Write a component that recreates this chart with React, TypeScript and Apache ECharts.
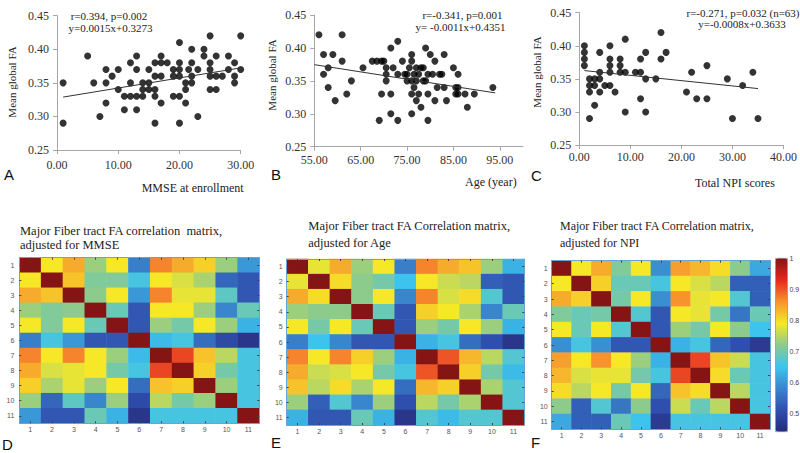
import React, { useEffect, useRef } from 'react';
import * as echarts from 'echarts';

const SERIF = '"Liberation Serif", "Times New Roman", serif';
const SANS = '"Liberation Sans", Arial, sans-serif';

// ---- scatter data (x, mean global FA) ----
const mmsePoints = [
  [1, 0.35], [1, 0.29], [5, 0.39], [6, 0.35], [7, 0.30], [8, 0.37], [8, 0.35], [8, 0.32], [9, 0.36],
  [10, 0.37], [10, 0.34], [11, 0.33], [11, 0.31], [12, 0.38], [12, 0.35], [12, 0.33], [13, 0.39],
  [13, 0.37], [13, 0.33], [13, 0.31], [14, 0.35], [14, 0.34], [14, 0.33], [15, 0.37], [15, 0.35],
  [15, 0.34], [16, 0.38], [16, 0.36], [16, 0.34], [16, 0.33], [16, 0.29], [17, 0.39], [17, 0.38],
  [17, 0.36], [17, 0.32], [18, 0.38], [19, 0.37], [19, 0.36], [19, 0.33], [20, 0.41], [20, 0.38],
  [20, 0.37], [20, 0.36], [20, 0.33], [20, 0.29], [21, 0.35], [21, 0.34], [21, 0.32], [21.5, 0.37],
  [22, 0.40], [22, 0.38], [22, 0.36], [22, 0.35], [23, 0.37], [23, 0.30], [24, 0.40], [24, 0.39],
  [25, 0.42], [25, 0.38], [25, 0.37], [25, 0.36], [25, 0.34], [26, 0.39], [26, 0.36], [26, 0.34],
  [27, 0.36], [28, 0.39], [28, 0.37], [29, 0.38], [29, 0.36], [29, 0.35], [30, 0.42], [30, 0.37],
];
const agePoints = [
  [56, 0.42], [57, 0.39], [57, 0.36], [58, 0.37], [58, 0.34], [59, 0.39], [59.5, 0.32], [61, 0.42],
  [61, 0.38], [62, 0.33], [63, 0.35], [65.5, 0.37], [67.5, 0.38], [68.5, 0.38], [69, 0.29],
  [69.5, 0.38], [69.5, 0.33], [70, 0.38], [70.5, 0.36], [70.5, 0.35], [70.5, 0.37], [71.5, 0.40],
  [71.5, 0.33], [71.5, 0.30], [72, 0.37], [73, 0.29], [73, 0.41], [73, 0.36], [74, 0.38], [74.5, 0.36],
  [75, 0.35], [75, 0.36], [75.5, 0.37], [76, 0.39], [76, 0.38], [76, 0.35], [76, 0.33], [76, 0.30],
  [76.5, 0.36], [76.5, 0.34], [77, 0.32], [77, 0.37], [77, 0.35], [77.5, 0.36], [78, 0.37],
  [77.5, 0.33], [78, 0.31], [78.5, 0.37], [78.5, 0.35], [79, 0.40], [79, 0.35], [79.5, 0.36],
  [79.5, 0.33], [79.5, 0.29], [80, 0.39], [80.5, 0.36], [81, 0.38], [81, 0.32], [81.5, 0.34],
  [82, 0.36], [82.5, 0.36], [83, 0.39], [83, 0.34], [83.5, 0.32], [85, 0.37], [85.5, 0.34],
  [85.5, 0.33], [86, 0.36], [86, 0.34], [86, 0.33], [87.5, 0.33], [88, 0.31], [89.5, 0.33],
  [93.5, 0.34],
];
const npiPoints = [
  [1, 0.40], [1, 0.39], [1, 0.38], [1, 0.37], [2, 0.35], [2, 0.34], [2, 0.33], [2, 0.29],
  [3, 0.35], [3, 0.34], [3, 0.31], [4, 0.39], [4, 0.36], [4, 0.35], [4, 0.33], [5, 0.34],
  [6, 0.40], [6, 0.38], [6, 0.37], [6, 0.36], [6, 0.34], [7, 0.33], [8, 0.38], [8, 0.37], [8, 0.36],
  [9, 0.41], [9, 0.36], [9, 0.30], [11, 0.36], [12, 0.38], [12, 0.36], [12, 0.32], [13, 0.39],
  [13, 0.35], [13, 0.30], [15, 0.35], [16, 0.42], [16, 0.38], [17, 0.39], [21, 0.33], [22, 0.36],
  [23, 0.32], [25, 0.37], [25, 0.32], [29, 0.35], [30, 0.29], [32, 0.34], [34, 0.36], [35, 0.29],
];
const mmseFit = [[1, 0.3288], [30, 0.3723]];
const ageFit = [[55, 0.3746], [94, 0.3317]];
const npiFit = [[1, 0.3625], [35, 0.3353]];

const faTicks = [0.25, 0.3, 0.35, 0.4, 0.45];
const mmseTicks = [0, 10, 20, 30];
const ageTicks = [55, 65, 75, 85, 95];
const npiTicks = [0, 10, 20, 30, 40];

// ---- correlation matrices (rows 1..11, cols 1..11) ----
const tractLabels = ['1', '2', '3', '4', '5', '6', '7', '8', '9', '10', '11'];
const matrixMMSE = [
  [1.0, 0.79, 0.84, 0.73, 0.79, 0.57, 0.87, 0.84, 0.81, 0.73, 0.6],
  [0.79, 1.0, 0.82, 0.71, 0.71, 0.66, 0.79, 0.77, 0.74, 0.54, 0.52],
  [0.84, 0.82, 1.0, 0.72, 0.79, 0.6, 0.87, 0.78, 0.78, 0.68, 0.52],
  [0.73, 0.71, 0.72, 1.0, 0.69, 0.52, 0.79, 0.79, 0.73, 0.58, 0.69],
  [0.79, 0.71, 0.79, 0.69, 1.0, 0.52, 0.73, 0.7, 0.79, 0.73, 0.63],
  [0.57, 0.66, 0.6, 0.52, 0.52, 1.0, 0.64, 0.66, 0.55, 0.5, 0.46],
  [0.87, 0.79, 0.87, 0.79, 0.73, 0.64, 1.0, 0.91, 0.82, 0.75, 0.66],
  [0.84, 0.77, 0.78, 0.79, 0.7, 0.66, 0.91, 1.0, 0.81, 0.7, 0.66],
  [0.81, 0.74, 0.78, 0.73, 0.79, 0.55, 0.82, 0.81, 1.0, 0.73, 0.66],
  [0.73, 0.54, 0.68, 0.58, 0.73, 0.5, 0.75, 0.7, 0.73, 1.0, 0.66],
  [0.6, 0.52, 0.52, 0.69, 0.63, 0.46, 0.66, 0.66, 0.66, 0.66, 1.0],
];
const matrixAge = [
  [1.0, 0.78, 0.84, 0.73, 0.79, 0.57, 0.87, 0.84, 0.82, 0.73, 0.63],
  [0.78, 1.0, 0.8, 0.72, 0.7, 0.65, 0.79, 0.76, 0.75, 0.53, 0.52],
  [0.84, 0.8, 1.0, 0.72, 0.79, 0.58, 0.87, 0.77, 0.8, 0.67, 0.52],
  [0.73, 0.72, 0.72, 1.0, 0.69, 0.52, 0.81, 0.79, 0.74, 0.58, 0.69],
  [0.79, 0.7, 0.79, 0.69, 1.0, 0.52, 0.73, 0.7, 0.79, 0.73, 0.63],
  [0.57, 0.65, 0.58, 0.52, 0.52, 1.0, 0.63, 0.66, 0.55, 0.51, 0.46],
  [0.87, 0.79, 0.87, 0.81, 0.73, 0.63, 1.0, 0.9, 0.83, 0.75, 0.67],
  [0.84, 0.76, 0.77, 0.79, 0.7, 0.66, 0.9, 1.0, 0.81, 0.7, 0.64],
  [0.82, 0.75, 0.8, 0.74, 0.79, 0.55, 0.83, 0.81, 1.0, 0.74, 0.67],
  [0.73, 0.53, 0.67, 0.58, 0.73, 0.51, 0.75, 0.7, 0.74, 1.0, 0.67],
  [0.63, 0.52, 0.52, 0.69, 0.63, 0.46, 0.67, 0.64, 0.67, 0.67, 1.0],
];
const matrixNPI = [
  [1.0, 0.79, 0.84, 0.71, 0.79, 0.59, 0.85, 0.83, 0.8, 0.72, 0.62],
  [0.79, 1.0, 0.81, 0.69, 0.69, 0.66, 0.79, 0.77, 0.75, 0.53, 0.53],
  [0.84, 0.81, 1.0, 0.7, 0.79, 0.59, 0.86, 0.78, 0.79, 0.67, 0.53],
  [0.71, 0.69, 0.7, 1.0, 0.67, 0.52, 0.79, 0.78, 0.7, 0.56, 0.69],
  [0.79, 0.69, 0.79, 0.67, 1.0, 0.52, 0.73, 0.7, 0.79, 0.72, 0.65],
  [0.59, 0.66, 0.59, 0.52, 0.52, 1.0, 0.63, 0.66, 0.54, 0.51, 0.47],
  [0.85, 0.79, 0.86, 0.79, 0.73, 0.63, 1.0, 0.91, 0.82, 0.76, 0.66],
  [0.83, 0.77, 0.78, 0.78, 0.7, 0.66, 0.91, 1.0, 0.8, 0.69, 0.66],
  [0.8, 0.75, 0.79, 0.7, 0.79, 0.54, 0.82, 0.8, 1.0, 0.75, 0.66],
  [0.72, 0.53, 0.67, 0.56, 0.72, 0.51, 0.76, 0.69, 0.75, 1.0, 0.66],
  [0.62, 0.53, 0.53, 0.69, 0.65, 0.47, 0.66, 0.66, 0.66, 0.66, 1.0],
];
const colorMin = 0.44;
const colorMax = 1.0;
const colorbarTicks = [1, 0.9, 0.8, 0.7, 0.6, 0.5];
const colorbarTickLabels = ['1', '0.9', '0.8', '0.7', '0.6', '0.5'];
const jet = ['#262c7c', '#2f4fae', '#3a86cc', '#3cc4ee', '#8ccb8c', '#f6e827', '#f7932f', '#e6271f', '#851515'];

const scatterGrids = [
  { left: 57, top: 15.7, width: 183.7, height: 134.3 },
  { left: 314.3, top: 15, width: 208.7, height: 131.7 },
  { left: 579.3, top: 12.7, width: 204.7, height: 132.3 },
];
const heatGrids = [
  { left: 19.3, top: 257.7, width: 240, height: 165.6 },
  { left: 286.7, top: 259, width: 237.6, height: 166 },
  { left: 551.7, top: 260.7, width: 218.3, height: 168.6 },
];
const colorbarBox = { left: 775.5, top: 258.3, width: 12, height: 173.4 };

function toCells(m: number[][]) {
  const out: number[][] = [];
  m.forEach((row, r) => row.forEach((v, c) => out.push([c, r, v])));
  return out;
}

const axisGray = '#a6a6a6';

function scatterX(gi: number, min: number, max: number, ticks: number[], margin: number) {
  return {
    type: 'value', gridIndex: gi, min, max,
    axisLine: { show: true, onZero: false, lineStyle: { color: axisGray, width: 1 } },
    axisTick: { show: true, length: 4, customValues: ticks, lineStyle: { color: axisGray } },
    axisLabel: {
      customValues: ticks, margin, fontFamily: SERIF, fontSize: 12, color: '#333',
      formatter: (v: number) => v.toFixed(2),
    },
    splitLine: { show: false },
  };
}
function scatterY(gi: number) {
  return {
    type: 'value', gridIndex: gi, min: 0.25, max: 0.45,
    axisLine: { show: true, onZero: false, lineStyle: { color: axisGray, width: 1 } },
    axisTick: { show: true, length: 4, customValues: faTicks, lineStyle: { color: axisGray } },
    axisLabel: {
      customValues: faTicks, margin: 8, fontFamily: SERIF, fontSize: 12, color: '#333',
      formatter: (v: number) => v.toFixed(2),
    },
    splitLine: { show: false },
  };
}
const frameColor = '#6aa3d5';
function heatX(gi: number, pos: 'bottom' | 'top') {
  return {
    type: 'category', gridIndex: gi, data: tractLabels, position: pos, z: 10,
    axisLine: { show: true, lineStyle: { color: frameColor, width: 1 } },
    axisTick: { show: true, inside: true, length: 2, alignWithLabel: true, interval: 0, lineStyle: { color: '#444' } },
    axisLabel: { show: pos === 'bottom', interval: 0, margin: 3, fontFamily: SANS, fontSize: 7, color: '#555' },
    splitLine: { show: false },
  };
}
function heatY(gi: number, pos: 'left' | 'right', margin: number) {
  return {
    type: 'category', gridIndex: gi, data: tractLabels, position: pos, inverse: true, z: 10,
    axisLine: { show: true, lineStyle: { color: frameColor, width: 1 } },
    axisTick: { show: true, inside: true, length: 2, alignWithLabel: true, interval: 0, lineStyle: { color: '#444' } },
    axisLabel: { show: pos === 'left', interval: 0, margin, fontFamily: SANS, fontSize: 7, color: '#555' },
    splitLine: { show: false },
  };
}

function txt(text: string, x: number, y: number, font: string, align = 'left', rotation = 0, fill = '#222') {
  return {
    type: 'text', x, y, rotation, silent: true,
    style: { text, font, fill, textAlign: align, textVerticalAlign: 'middle' },
  };
}

export default function App() {
  const ref = useRef<HTMLDivElement>(null);
  useEffect(() => {
    if (!ref.current) return;
    const chart = echarts.init(ref.current, undefined, { renderer: 'svg' });
    const dot = { type: 'scatter', symbol: 'circle', symbolSize: 7, itemStyle: { color: '#000' } };
    const fit = { type: 'line', symbol: 'none', lineStyle: { color: '#333', width: 1 }, z: 3 };
    const heat = { type: 'heatmap', itemStyle: { borderWidth: 0 } };

    const cbTexts = colorbarTicks.map((v, i) =>
      txt(
        colorbarTickLabels[i],
        colorbarBox.left + colorbarBox.width + 2,
        colorbarBox.top + (1 - (v - colorMin) / (colorMax - colorMin)) * colorbarBox.height,
        '7px ' + SANS, 'left', 0, '#444'
      )
    );

    const option: any = {
      animation: false,
      backgroundColor: '#fff',
      grid: [...scatterGrids, ...heatGrids].map((g) => ({ ...g, containLabel: false })),
      xAxis: [
        scatterX(0, 0, 30, mmseTicks, 9),
        scatterX(1, 55, 100, ageTicks, 7),
        scatterX(2, 0, 40, npiTicks, 6),
        heatX(3, 'bottom'), heatX(3, 'top'),
        heatX(4, 'bottom'), heatX(4, 'top'),
        heatX(5, 'bottom'), heatX(5, 'top'),
      ],
      yAxis: [
        scatterY(0), scatterY(1), scatterY(2),
        heatY(3, 'left', 5), heatY(3, 'right', 5),
        heatY(4, 'left', 4), heatY(4, 'right', 4),
        heatY(5, 'left', 4), heatY(5, 'right', 4),
      ],
      visualMap: {
        type: 'continuous', min: colorMin, max: colorMax, seriesIndex: [6, 7, 8],
        calculable: false, hoverLink: false, orient: 'vertical', padding: 0,
        left: colorbarBox.left, top: colorbarBox.top,
        itemWidth: colorbarBox.width, itemHeight: colorbarBox.height,
        inRange: { color: jet },
        textStyle: { fontSize: 7 },
      },
      series: [
        { ...dot, xAxisIndex: 0, yAxisIndex: 0, data: mmsePoints },
        { ...fit, xAxisIndex: 0, yAxisIndex: 0, data: mmseFit },
        { ...dot, xAxisIndex: 1, yAxisIndex: 1, data: agePoints },
        { ...fit, xAxisIndex: 1, yAxisIndex: 1, data: ageFit },
        { ...dot, xAxisIndex: 2, yAxisIndex: 2, data: npiPoints },
        { ...fit, xAxisIndex: 2, yAxisIndex: 2, data: npiFit },
        { ...heat, xAxisIndex: 3, yAxisIndex: 3, data: toCells(matrixMMSE) },
        { ...heat, xAxisIndex: 5, yAxisIndex: 5, data: toCells(matrixAge) },
        { ...heat, xAxisIndex: 7, yAxisIndex: 7, data: toCells(matrixNPI) },
      ],
      graphic: [
        // y-axis titles
        txt('Mean global FA', 12, 82, '11px ' + SERIF, 'center', Math.PI / 2),
        txt('Mean global FA', 272, 75, '11px ' + SERIF, 'center', Math.PI / 2),
        txt('Mean global FA', 537, 72, '11px ' + SERIF, 'center', Math.PI / 2),
        // x-axis titles
        txt('MMSE at enrollment', 141.7, 188.3, '12px ' + SERIF),
        txt('Age (year)', 465, 181.7, '12px ' + SERIF),
        txt('Total NPI scores', 695, 182.7, '12px ' + SERIF),
        // annotations
        txt('r=0.394, p=0.002', 109, 15.7, '11px ' + SERIF, 'center'),
        txt('y=0.0015x+0.3273', 110.5, 28.3, '11px ' + SERIF, 'center'),
        txt('r=-0.341, p=0.001', 462.5, 15, '11px ' + SERIF, 'center'),
        txt('y= -0.0011x+0.4351', 460.5, 26.7, '11px ' + SERIF, 'center'),
        txt('r=-0.271, p=0.032 (n=63)', 743, 12.7, '11px ' + SERIF, 'center'),
        txt('y=-0.0008x+0.3633', 742, 24, '11px ' + SERIF, 'center'),
        // heatmap titles
        txt('Major Fiber tract FA correlation  matrix,', 20, 231, '12.5px ' + SERIF),
        txt('adjusted for MMSE', 20, 245, '12.5px ' + SERIF),
        txt('Major Fiber tract FA Correlation matrix,', 308.3, 226, '12.5px ' + SERIF),
        txt('adjusted for Age', 308.3, 243, '12.5px ' + SERIF),
        txt('Major Fiber tract FA Correlation matrix,', 560, 226, '12px ' + SERIF),
        txt('adjusted for NPI', 560, 242.5, '12px ' + SERIF),
        // panel letters
        txt('A', 4, 174, '15px ' + SANS, 'left', 0, '#111'),
        txt('B', 271, 174, '15px ' + SANS, 'left', 0, '#111'),
        txt('C', 531, 175, '15px ' + SANS, 'left', 0, '#111'),
        txt('D', 2, 444, '15px ' + SANS, 'left', 0, '#111'),
        txt('E', 271, 442.5, '15px ' + SANS, 'left', 0, '#111'),
        txt('F', 531, 442, '15px ' + SANS, 'left', 0, '#111'),
        // colorbar frame and labels
        {
          type: 'rect', silent: true, z: 100,
          shape: { x: colorbarBox.left, y: colorbarBox.top, width: colorbarBox.width, height: colorbarBox.height },
          style: { fill: 'none', stroke: '#777', lineWidth: 0.6 },
        },
        ...cbTexts,
      ],
    };
    chart.setOption(option);
    return () => chart.dispose();
  }, []);
  return <div ref={ref} style={{ position: 'absolute', left: 0, top: 0, width: 800, height: 453 }} />;
}
